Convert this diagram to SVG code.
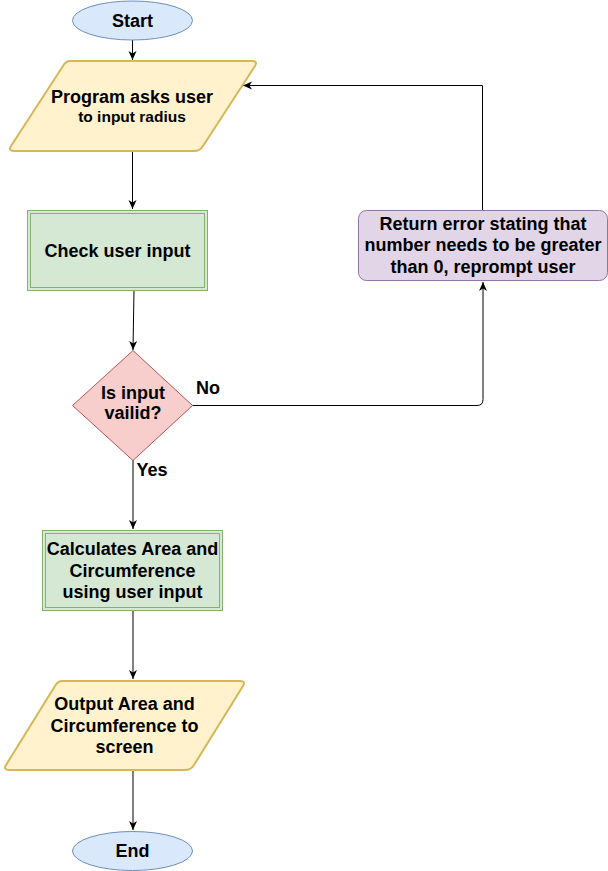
<svg xmlns="http://www.w3.org/2000/svg" width="608" height="871" viewBox="0 0 608 871">
<defs>
<style>
text{font-family:"Liberation Sans",Arial,sans-serif;font-weight:bold;fill:#000;text-anchor:middle}
.t16{font-size:18px}
.t14{font-size:15.5px}
.blue{fill:#dae8fc;stroke:#6c8ebf;stroke-width:1}
.yellow{fill:#fff2cc;stroke:#d6b656;stroke-width:2;stroke-linejoin:round}
.green{fill:#d5e8d4;stroke:#82b366;stroke-width:1}
.red{fill:#f8cecc;stroke:#b85450;stroke-width:1}
.purple{fill:#e1d5e7;stroke:#9673a6;stroke-width:1}
.edge{fill:none;stroke:#000;stroke-width:1}
</style>
<marker id="arr" viewBox="0 0 10 10" refX="9" refY="5" markerWidth="10" markerHeight="10" markerUnits="userSpaceOnUse" orient="auto">
<path d="M0,1 L9,5 L0,9 L2.5,5 Z" fill="#000"/>
</marker>
</defs>
<rect width="608" height="871" fill="#fff"/>
<g id="connectors">
<path class="edge" d="M132.5,40 V60" marker-end="url(#arr)"/>
<path class="edge" d="M132.5,151 V209" marker-end="url(#arr)"/>
<path class="edge" d="M134,290 L133,350" marker-end="url(#arr)"/>
<path class="edge" d="M192,405.5 H477 Q483,405.5 483,399.5 V282" marker-end="url(#arr)"/>
<path class="edge" d="M482.5,210 V85.5 H243" marker-end="url(#arr)"/>
<path class="edge" d="M133,460 V529" marker-end="url(#arr)"/>
<path class="edge" d="M133,610 V679" marker-end="url(#arr)"/>
<path class="edge" d="M133,770 V830" marker-end="url(#arr)"/>
</g>
<g id="start">
<ellipse class="blue" cx="132.5" cy="20.5" rx="60" ry="19.5"/>
<text class="t16" x="132.5" y="26.5">Start</text>
</g>
<g id="ask">
<path class="yellow" d="M70,61 H252 Q258,61 255,66 L203,146 Q200,151 194,151 H14 Q8,151 11,146 L63,66 Q66,61 70,61 Z"/>
<text class="t16" x="132" y="102.5">Program asks user</text>
<text class="t14" x="132" y="121.5">to input radius</text>
</g>
<g id="check">
<rect class="green" x="27.5" y="210.5" width="180" height="80"/>
<rect x="30.5" y="213.5" width="174" height="74" fill="none" stroke="#82b366" stroke-width="1"/>
<text class="t16" x="117.5" y="256.5">Check user input</text>
</g>
<g id="valid">
<path class="red" d="M133,350.5 L192.5,405.5 L133,460.5 L72.5,405.5 Z"/>
<text class="t16" x="133" y="399">Is input</text>
<text class="t16" x="133" y="419">vailid?</text>
</g>
<g id="error">
<rect class="purple" x="358.5" y="210.5" width="249" height="70" rx="8"/>
<text class="t16" x="483" y="230">Return error stating that</text>
<text class="t16" x="483" y="251">number needs to be greater</text>
<text class="t16" x="483" y="272.5">than 0, reprompt user</text>
</g>
<g id="calc">
<rect class="green" x="42.5" y="530.5" width="180" height="80"/>
<rect x="45.5" y="533.5" width="174" height="74" fill="none" stroke="#82b366" stroke-width="1"/>
<text class="t16" x="132.5" y="555">Calculates Area and</text>
<text class="t16" x="132.5" y="576.5">Circumference</text>
<text class="t16" x="132.5" y="598">using user input</text>
</g>
<g id="output">
<path class="yellow" d="M62,681 H240 Q246,681 243,686 L194,765 Q191,770 185,770 H9 Q3,770 6,765 L55,686 Q58,681 62,681 Z"/>
<text class="t16" x="124.5" y="710">Output Area and</text>
<text class="t16" x="124.5" y="731.5">Circumference to</text>
<text class="t16" x="124.5" y="753">screen</text>
</g>
<g id="end">
<ellipse class="blue" cx="132.5" cy="851" rx="60" ry="19.5"/>
<text class="t16" x="132.5" y="857">End</text>
</g>
<g id="labels">
<text class="t16" x="208" y="394">No</text>
<text class="t16" x="152" y="476">Yes</text>
</g>
</svg>
